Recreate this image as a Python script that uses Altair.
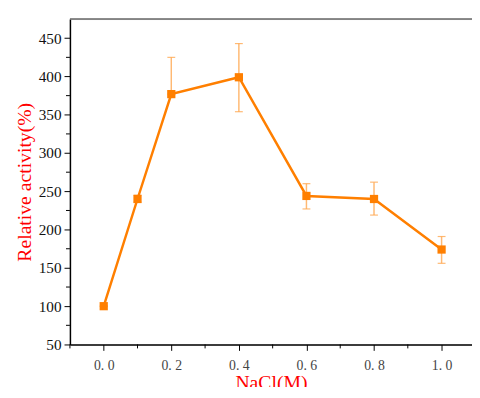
import altair as alt
import pandas as pd

nacl = [0.0, 0.1, 0.2, 0.4, 0.6, 0.8, 1.0]
activity = [100, 240, 377, 399, 244, 240, 174]
err_low = [100, 236, 377, 354, 227, 219, 156]
err_high = [100, 245, 425, 443, 260, 262, 191]

x_major = [0.0, 0.2, 0.4, 0.6, 0.8, 1.0]
x_minor = [-0.1, 0.1, 0.3, 0.5, 0.7, 0.9]
y_major = [50, 100, 150, 200, 250, 300, 350, 400, 450]
y_minor = [75, 125, 175, 225, 275, 325, 375, 425]

df = pd.DataFrame({"x": nacl, "y": activity, "lo": err_low, "hi": err_high})
df_xminor = pd.DataFrame({"x": x_minor})
df_yminor = pd.DataFrame({"y": y_minor})

FONT = "Liberation Serif"
ORANGE = "#FF7F00"
ERR = "#FFA850"
W, H = 409, 331

xscale = alt.Scale(domain=[-0.1, 1.09], nice=False, zero=False)
yscale = alt.Scale(domain=[50, 475], nice=False, zero=False)

xaxis = alt.Axis(
    values=x_major,
    labelExpr="replace(format(datum.value, '.1f'), '.', '. ')",
    tickSize=6,
    tickColor="#000000",
    domainColor="#000000",
    domainWidth=1.5,
    labelFont=FONT,
    labelFontSize=14,
    labelColor="#444444",
    labelPadding=8,
    labelOverlap=False,
    grid=False,
    title="NaCl(M)",
    titleFont=FONT,
    titleFontSize=20,
    titleFontWeight="normal",
    titleColor="#FF0000",
    titlePadding=1,
)
yaxis = alt.Axis(
    values=y_major,
    format="d",
    tickSize=6,
    tickColor="#000000",
    domainColor="#000000",
    domainWidth=1.5,
    labelFont=FONT,
    labelFontSize=15.5,
    labelColor="#111111",
    labelPadding=3,
    labelOverlap=False,
    grid=False,
    title="Relative activity(%)",
    titleFont=FONT,
    titleFontSize=20,
    titleFontWeight="normal",
    titleColor="#FF0000",
    titlePadding=4,
)

base = alt.Chart(df)

err_rule = base.mark_rule(color=ERR, strokeWidth=1.5, opacity=0.8).encode(
    x=alt.X("x:Q", scale=xscale, axis=xaxis),
    y=alt.Y("lo:Q", scale=yscale, axis=yaxis),
    y2="hi:Q",
)
cap_hi = base.mark_tick(color=ERR, orient="horizontal", size=8, thickness=1.2, opacity=0.8).encode(
    x="x:Q", y="hi:Q"
)
cap_lo = base.mark_tick(color=ERR, orient="horizontal", size=8, thickness=1.2, opacity=0.8).encode(
    x="x:Q", y="lo:Q"
)
line = base.mark_line(color=ORANGE, strokeWidth=2.5).encode(x="x:Q", y="y:Q")
pts = base.mark_square(color=ORANGE, size=70, opacity=1).encode(x="x:Q", y="y:Q")

xminor = alt.Chart(df_xminor).mark_rule(color="#000000", strokeWidth=1).encode(
    x="x:Q", y=alt.value(H), y2=alt.value(H + 4)
)
yminor = alt.Chart(df_yminor).mark_rule(color="#000000", strokeWidth=1).encode(
    y="y:Q", x=alt.value(-4), x2=alt.value(0)
)

top_rule = alt.Chart(pd.DataFrame({"a": [0]})).mark_rule(color="#666666", strokeWidth=1.5).encode(
    x=alt.value(0), x2=alt.value(W), y=alt.value(0)
)

chart = alt.layer(err_rule, cap_hi, cap_lo, line, pts, xminor, yminor, top_rule).properties(
    width=W,
    height=H,
    autosize=alt.AutoSizeParams(type="none"),
    padding={"left": 63, "top": 8, "right": 0, "bottom": 40},
).configure_view(strokeWidth=0).configure(background="white")

chart.save("out.html", embed_options={"renderer": "svg", "actions": False})
